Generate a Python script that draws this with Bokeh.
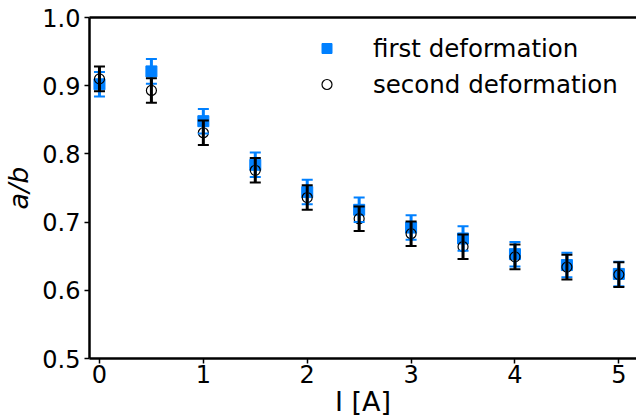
from bokeh.plotting import figure
from bokeh.models import (ColumnDataSource, Whisker, TeeHead, FixedTicker, Legend, LegendItem,
                          LinearAxis, Range1d, PrintfTickFormatter)
from bokeh.embed import file_html
from bokeh.resources import INLINE

current = [0, 0.5, 1, 1.5, 2, 2.5, 3, 3.5, 4, 4.5, 5]
first_ratio = [0.902, 0.921, 0.848, 0.784, 0.744, 0.718, 0.692, 0.676, 0.653, 0.637, 0.624]
first_err = [0.018, 0.018, 0.018, 0.018, 0.018, 0.018, 0.018, 0.018, 0.018, 0.018, 0.018]
second_ratio = [0.910, 0.893, 0.831, 0.776, 0.736, 0.705, 0.683, 0.664, 0.649, 0.634, 0.623]
second_err = [0.018, 0.018, 0.018, 0.018, 0.018, 0.018, 0.018, 0.018, 0.018, 0.018, 0.018]
x_ticks = [0, 1, 2, 3, 4, 5]
y_ticks = [0.5, 0.6, 0.7, 0.8, 0.9, 1.0]

BLUE = "#0080ff"
FONT = "DejaVu Sans"

p = figure(width=636, height=420, output_backend="svg", toolbar_location=None,
           x_range=Range1d(-0.096, 5.17), y_range=Range1d(0.5, 1.0),
           min_border_left=89, min_border_right=0, min_border_top=17, min_border_bottom=62)
p.grid.visible = False
p.outline_line_color = None
p.background_fill_color = "white"
p.border_fill_color = "white"

def mk_src(y, e):
    return ColumnDataSource(dict(x=current, y=y,
                                 lo=[a - b for a, b in zip(y, e)],
                                 hi=[a + b for a, b in zip(y, e)]))

s1 = mk_src(first_ratio, first_err)
s2 = mk_src(second_ratio, second_err)

def add_whisker(src, color):
    w = Whisker(source=src, base="x", lower="lo", upper="hi", dimension="height",
                line_color=color, line_width=3, level="glyph",
                upper_head=TeeHead(size=11, line_color=color, line_width=2),
                lower_head=TeeHead(size=11, line_color=color, line_width=2))
    p.add_layout(w)

add_whisker(s1, BLUE)
r1 = p.scatter("x", "y", source=s1, marker="square", size=11, fill_color=BLUE, line_color=BLUE)
add_whisker(s2, "black")
r2 = p.scatter("x", "y", source=s2, marker="circle", size=10, fill_color=None, line_color="black", line_width=1.2)

for ax in [p.xaxis[0], p.yaxis[0]]:
    ax.axis_line_width = 2.5
    ax.major_tick_line_width = 1.5
    ax.major_tick_out = 5
    ax.major_tick_in = 0
    ax.minor_tick_line_color = None
    ax.major_label_text_font = FONT
    ax.major_label_text_font_size = "24px"
    ax.major_label_text_color = "black"
    ax.axis_label_text_font = FONT
    ax.axis_label_text_font_size = "27px"
    ax.axis_label_text_color = "black"
    ax.axis_label_text_font_style = "normal"

p.xaxis[0].ticker = FixedTicker(ticks=x_ticks)
p.xaxis[0].axis_label = "I [A]"
p.xaxis[0].axis_label_standoff = 0
p.xaxis[0].major_label_standoff = 1
p.yaxis[0].ticker = FixedTicker(ticks=y_ticks)
p.yaxis[0].formatter = PrintfTickFormatter(format="%.1f")
p.yaxis[0].axis_label = "a/b"
p.yaxis[0].axis_label_text_font_style = "italic"
p.yaxis[0].major_label_standoff = 4

top = LinearAxis(ticker=FixedTicker(ticks=[]), axis_line_width=2.5,
                 major_tick_line_color=None, minor_tick_line_color=None,
                 major_label_text_font_size="0px")
p.add_layout(top, "above")

legend = Legend(items=[LegendItem(label="first deformation", renderers=[r1]),
                       LegendItem(label="second deformation", renderers=[r2])],
                location=(225, 259), border_line_color=None, background_fill_alpha=0,
                label_text_font=FONT, label_text_font_size="24.5px", label_text_color="black",
                glyph_width=25, glyph_height=30, label_height=30, spacing=6,
                padding=0, margin=0, label_standoff=34)
p.add_layout(legend)

open("out.html", "w").write(file_html(p, INLINE))
